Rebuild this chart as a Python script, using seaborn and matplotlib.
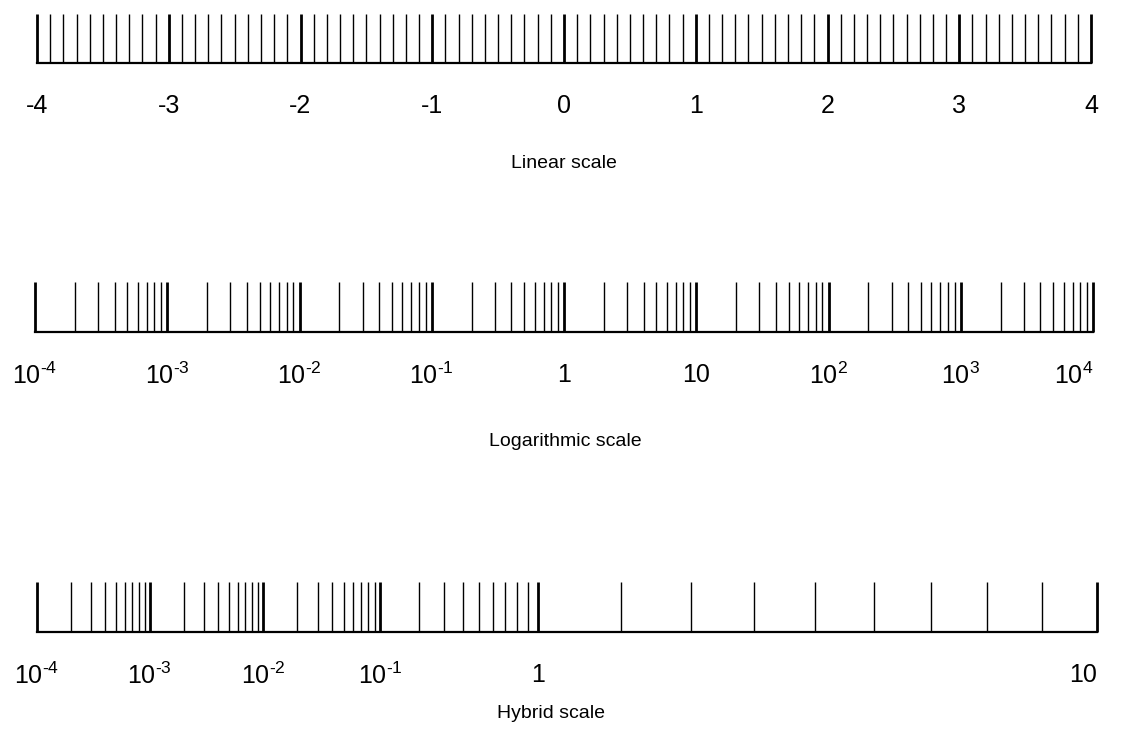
import numpy as np
import matplotlib
matplotlib.use("Agg")
import matplotlib.pyplot as plt
import seaborn as sns
from matplotlib.ticker import FixedLocator, FixedFormatter

# ---------------- data ----------------
linear_major = [-4, -3, -2, -1, 0, 1, 2, 3, 4]
linear_labels = ["-4", "-3", "-2", "-1", "0", "1", "2", "3", "4"]
linear_minor_step = 0.1

log_major = [1e-4, 1e-3, 1e-2, 1e-1, 1, 10, 1e2, 1e3, 1e4]
log_labels = [r"$10^{\text{-4}}$", r"$10^{\text{-3}}$", r"$10^{\text{-2}}$", r"$10^{\text{-1}}$",
              "1", "10", r"$10^{2}$", r"$10^{3}$", r"$10^{4}$"]
log_subs = [2, 3, 4, 5, 6, 7, 8, 9]

hybrid_major = [1e-4, 1e-3, 1e-2, 1e-1, 1, 10]
hybrid_labels = [r"$10^{\text{-4}}$", r"$10^{\text{-3}}$", r"$10^{\text{-2}}$", r"$10^{\text{-1}}$",
                 "1", "10"]
hybrid_linear_minor = [2, 3, 4, 5, 6, 7, 8, 9]

titles = ["Linear scale", "Logarithmic scale", "Hybrid scale"]

# ---------------- style ----------------
sns.set_theme(style="white")
plt.rcParams["font.family"] = ["Liberation Sans", "DejaVu Sans"]
plt.rcParams["mathtext.fontset"] = "custom"
plt.rcParams["mathtext.rm"] = "Liberation Sans"
plt.rcParams["mathtext.it"] = "Liberation Sans"
plt.rcParams["mathtext.bf"] = "Liberation Sans:bold"
plt.rcParams["axes.unicode_minus"] = False
plt.rcParams["text.color"] = "black"

W, H = 1131, 746
fig = plt.figure(figsize=(W / 100, H / 100), dpi=100)
fig.patch.set_facecolor("white")

HYB_K = 0.44


def hyb_fwd(x):
    x = np.asarray(x, dtype=float)
    xs = np.where(x > 0, x, 1e-12)
    return np.log10(xs) + HYB_K * xs


_grid = np.logspace(-8, 3, 40000)
_gval = hyb_fwd(_grid)


def hyb_inv(y):
    return np.interp(np.asarray(y, dtype=float), _gval, _grid)


def make_axis(left, right, base, top):
    ax = fig.add_axes([left / W, 1 - base / H, (right - left) / W, (base - top) / H])
    ax.patch.set_alpha(0)
    for s in ["left", "right", "top"]:
        ax.spines[s].set_visible(False)
    ax.spines["bottom"].set_linewidth(1.6)
    ax.spines["bottom"].set_color("black")
    ax.set_yticks([])
    ax.set_ylim(0, 1)
    L = (base - top) * 0.72
    ax.tick_params(axis="x", which="major", direction="in", length=L, width=2.0,
                   color="black", bottom=True, top=False, pad=22, labelsize=18,
                   labelcolor="black")
    ax.tick_params(axis="x", which="minor", direction="in", length=L, width=1.0,
                   color="black", bottom=True, top=False)
    return ax


# Linear
ax1 = make_axis(37, 1091, 63, 14)
ax1.set_xlim(linear_major[0], linear_major[-1])
ax1.xaxis.set_major_locator(FixedLocator(linear_major))
ax1.xaxis.set_major_formatter(FixedFormatter(linear_labels))
ax1.xaxis.set_minor_locator(FixedLocator(
    np.arange(linear_major[0], linear_major[-1] + 1e-9, linear_minor_step)))

# Logarithmic
ax2 = make_axis(35, 1093, 332, 282)
ax2.set_xscale("log")
ax2.set_xlim(log_major[0], log_major[-1])
ax2.xaxis.set_major_locator(FixedLocator(log_major))
ax2.xaxis.set_major_formatter(FixedFormatter(log_labels))
ax2.xaxis.set_minor_locator(FixedLocator(
    [m * d for d in log_major[:-1] for m in log_subs]))
ax2.get_xticklabels()[-1].set_ha("right")

# Hybrid
ax3 = make_axis(37, 1097, 632, 582)
ax3.set_xscale("function", functions=(hyb_fwd, hyb_inv))
ax3.set_xlim(hybrid_major[0], hybrid_major[-1])
ax3.xaxis.set_major_locator(FixedLocator(hybrid_major))
ax3.xaxis.set_major_formatter(FixedFormatter(hybrid_labels))
ax3.xaxis.set_minor_locator(FixedLocator(
    [m * d for d in hybrid_major[:4] for m in log_subs] + hybrid_linear_minor))
ax3.get_xticklabels()[-1].set_ha("right")

# Titles
fig.text(564 / W, 1 - 163 / H, titles[0], ha="center", va="center", fontsize=14, color="black")
fig.text(565 / W, 1 - 442 / H, titles[1], ha="center", va="center", fontsize=14, color="black")
fig.text(551 / W, 1 - 713 / H, titles[2], ha="center", va="center", fontsize=14, color="black")

fig.savefig("out.png", dpi=100, facecolor="white")
